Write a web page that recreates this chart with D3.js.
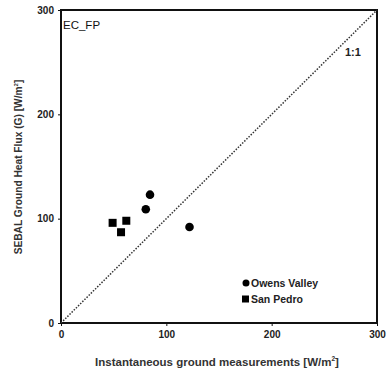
<!DOCTYPE html>
<html>
<head>
<meta charset="utf-8">
<script src="https://cdn.jsdelivr.net/npm/d3@7.9.0/dist/d3.min.js"></script>
<style>
  body { margin: 0; background: #fff; }
  svg text { font-family: Arial, "Liberation Sans", sans-serif; }
</style>
</head>
<body>
<svg id="chart" width="387" height="375"></svg>
<script>
const owensX = [84.5, 80.5, 122];
const owensY = [123, 109, 92];
const sanPedroX = [49, 57, 62];
const sanPedroY = [96, 87, 98];
const ticks = [0, 100, 200, 300];

const svg = d3.select("#chart");
const margin = { left: 61, right: 10, top: 10, bottom: 52 };
const W = 387, H = 375;

const x = d3.scaleLinear().domain([0, 300]).range([margin.left, W - margin.right]);
const y = d3.scaleLinear().domain([0, 300]).range([H - margin.bottom, margin.top]);

// frame
svg.append("rect")
  .attr("x", x(0)).attr("y", y(300))
  .attr("width", x(300) - x(0)).attr("height", y(0) - y(300))
  .attr("fill", "none").attr("stroke", "#111").attr("stroke-width", 2);

// 1:1 line
svg.append("line")
  .attr("x1", x(0)).attr("y1", y(0)).attr("x2", x(300)).attr("y2", y(300))
  .attr("stroke", "#333").attr("stroke-width", 1.5).attr("stroke-dasharray", "1.5,1.5");

// axes
const xAxis = svg.append("g").attr("transform", `translate(0,${y(0)})`)
  .call(d3.axisBottom(x).tickValues(ticks).tickSize(3).tickPadding(5));
const yAxis = svg.append("g").attr("transform", `translate(${x(0)},0)`)
  .call(d3.axisLeft(y).tickValues(ticks).tickSize(3).tickPadding(4));
[xAxis, yAxis].forEach(g => {
  g.select(".domain").remove();
  g.selectAll("line").attr("stroke", "#111");
  g.selectAll("text").attr("font-size", 10).attr("font-weight", "bold").attr("fill", "#222")
    .attr("font-family", "Arial, 'Liberation Sans', sans-serif");
});

// points
const owens = owensX.map((v, i) => ({ x: v, y: owensY[i] }));
const sanPedro = sanPedroX.map((v, i) => ({ x: v, y: sanPedroY[i] }));

svg.selectAll(".owens").data(owens).join("circle")
  .attr("cx", d => x(d.x)).attr("cy", d => y(d.y)).attr("r", 4.3).attr("fill", "#000");

svg.selectAll(".sp").data(sanPedro).join("rect")
  .attr("x", d => x(d.x) - 4).attr("y", d => y(d.y) - 4)
  .attr("width", 8).attr("height", 8).attr("fill", "#000");

// legend
svg.append("circle").attr("cx", 246).attr("cy", 283).attr("r", 3.5).attr("fill", "#000");
svg.append("text").attr("x", 251).attr("y", 287).text("Owens Valley")
  .attr("font-size", 10.5).attr("font-weight", "bold").attr("fill", "#222");
svg.append("rect").attr("x", 242).attr("y", 295.5).attr("width", 7).attr("height", 7).attr("fill", "#000");
svg.append("text").attr("x", 251).attr("y", 303).text("San Pedro")
  .attr("font-size", 10.5).attr("font-weight", "bold").attr("fill", "#222");

// annotations
svg.append("text").attr("x", 63).attr("y", 29).text("EC_FP")
  .attr("font-size", 11.5).attr("fill", "#111");
svg.append("text").attr("x", 345).attr("y", 56).text("1:1")
  .attr("font-size", 11).attr("font-weight", "bold").attr("fill", "#222");

// axis titles
const xt = svg.append("text").attr("x", 217).attr("y", 366).attr("text-anchor", "middle")
  .attr("font-size", 11.5).attr("font-weight", "bold").attr("fill", "#333");
xt.append("tspan").text("Instantaneous ground measurements [W/m");
xt.append("tspan").text("2").attr("font-size", 6.5).attr("dy", -5);
xt.append("tspan").text("]").attr("dy", 5);

const yt = svg.append("text").attr("transform", `translate(22,${167}) rotate(-90)`)
  .attr("text-anchor", "middle")
  .attr("font-size", 10.2).attr("font-weight", "bold").attr("fill", "#333");
yt.append("tspan").text("SEBAL Ground Heat Flux (G) [W/m");
yt.append("tspan").text("2").attr("font-size", 6).attr("dy", -4.5);
yt.append("tspan").text("]").attr("dy", 4.5);
</script>
</body>
</html>
